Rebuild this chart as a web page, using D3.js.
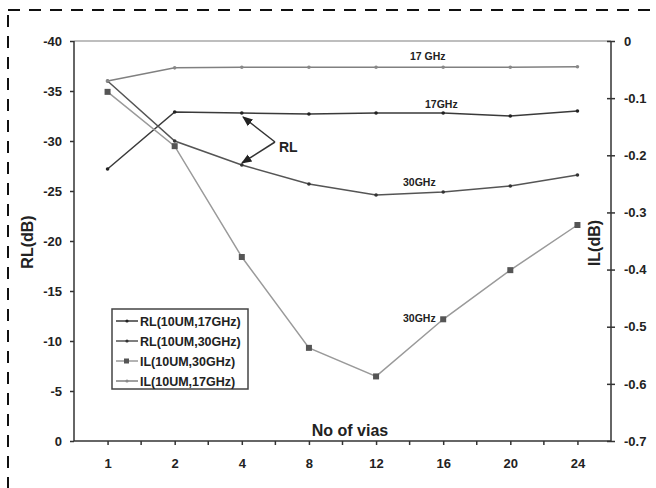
<!DOCTYPE html>
<html lang="en">
<head>
<meta charset="UTF-8">
<title>RL / IL vs No of vias</title>
<script src="https://d3js.org/d3.v7.min.js"></script>
<style>
    body { margin: 0; background: #fff; }
    svg { font-family: Arial, "Liberation Sans", sans-serif; font-weight: bold; }
</style>
</head>
<body>
<svg id="chart" width="656" height="488"></svg>
<script>
// categories on the x axis
const vias = ["1", "2", "4", "8", "12", "16", "20", "24"]

// return loss, left axis (dB)
const rl17 = [-27.2, -32.9, -32.8, -32.7, -32.8, -32.8, -32.5, -33.0]
const rl30 = [-36.0, -30.0, -27.6, -25.7, -24.6, -24.9, -25.5, -26.6]
// insertion loss, right axis (dB)
const il30 = [-0.089, -0.184, -0.378, -0.537, -0.587, -0.487, -0.401, -0.322]
const il17 = [-0.070, -0.047, -0.046, -0.046, -0.046, -0.046, -0.046, -0.045]

const leftTicks = [-40, -35, -30, -25, -20, -15, -10, -5, 0]
const rightTicks = [0, -0.1, -0.2, -0.3, -0.4, -0.5, -0.6, -0.7]

const svg = d3.select("#chart")
const pLeft = 74, pRight = 611, pTop = 41, pBottom = 441

// dashed frame round the figure
svg.append("rect")
    .attr("x", 8).attr("y", 10)
    .attr("width", 700).attr("height", 600)
    .attr("fill", "none").attr("stroke", "#111")
    .attr("stroke-width", 2).attr("stroke-dasharray", "12,9")

let x = d3.scalePoint().domain(vias).range([pLeft, pRight]).padding(0.5)
let xBand = d3.scaleBand().domain(vias).range([pLeft, pRight])
let yL = d3.scaleLinear().domain([0, -40]).range([pBottom, pTop])
let yR = d3.scaleLinear().domain([-0.7, 0]).range([pBottom, pTop])

// top edge of plot area
svg.append("line")
    .attr("x1", pLeft).attr("x2", pRight).attr("y1", pTop).attr("y2", pTop)
    .attr("stroke", "#a8a8a8").attr("stroke-width", 1.5)

// left axis
let gL = svg.append("g").attr("transform", `translate(${pLeft},0)`)
    .call(d3.axisLeft(yL).tickValues(leftTicks).tickSize(4).tickPadding(8).tickFormat(d => String(d)))
// right axis
let gR = svg.append("g").attr("transform", `translate(${pRight},0)`)
    .call(d3.axisRight(yR).tickValues(rightTicks).tickSize(4).tickPadding(9)
        .tickFormat(d => d === 0 ? "0" : d.toFixed(1)))
gR.selectAll(".tick line").attr("x1", -4)
// bottom axis
let gB = svg.append("g").attr("transform", `translate(0,${pBottom})`)
    .call(d3.axisBottom(x).tickSize(4).tickPadding(14))
// extra ticks at the category boundaries
gB.selectAll(".bound").data(vias.slice(1)).enter().append("line")
    .attr("x1", d => xBand(d)).attr("x2", d => xBand(d))
    .attr("y1", 0).attr("y2", 4).attr("stroke", "#333").attr("stroke-width", 1.5)

for (let g of [gL, gR, gB]) {
    g.select(".domain").attr("stroke", "#333").attr("stroke-width", 1.5)
    g.selectAll(".tick line").attr("stroke", "#333").attr("stroke-width", 1.5)
    g.selectAll("text").attr("font-size", 13).attr("font-weight", "bold")
        .attr("font-family", "Arial, 'Liberation Sans', sans-serif").attr("fill", "#222")
}
gB.select(".domain").attr("d", `M${pLeft},0H${pRight}`)
gL.select(".domain").attr("d", `M0,${pTop}V${pBottom}`)
gR.select(".domain").attr("d", `M0,${pTop}V${pBottom}`)

// axis titles
svg.append("text").attr("transform", "translate(33,242) rotate(-90)")
    .attr("text-anchor", "middle").attr("font-size", 16).attr("fill", "#222").text("RL(dB)")
svg.append("text").attr("transform", "translate(600,243) rotate(-90)")
    .attr("text-anchor", "middle").attr("font-size", 16).attr("fill", "#222").text("IL(dB)")
svg.append("text").attr("x", 350).attr("y", 436)
    .attr("text-anchor", "middle").attr("font-size", 16).attr("fill", "#222").text("No of vias")

// series
const series = [
    { name: "RL(10UM,17GHz)", vals: rl17, y: yL, color: "#3a3a3a", mark: "#222", shape: "dot" },
    { name: "RL(10UM,30GHz)", vals: rl30, y: yL, color: "#555", mark: "#333", shape: "dot" },
    { name: "IL(10UM,30GHz)", vals: il30, y: yR, color: "#9a9a9a", mark: "#555", shape: "square" },
    { name: "IL(10UM,17GHz)", vals: il17, y: yR, color: "#808080", mark: "#888", shape: "dot" }
]

let lineGen = (s) => d3.line()
    .x((d, i) => x(vias[i]))
    .y(d => s.y(d))

series.forEach(s => {
    svg.append("path").datum(s.vals)
        .attr("d", lineGen(s)).attr("fill", "none")
        .attr("stroke", s.color).attr("stroke-width", 1.5)
    let pts = svg.append("g")
    s.vals.forEach((v, i) => {
        if (s.shape === "square") {
            pts.append("rect").attr("x", x(vias[i]) - 3).attr("y", s.y(v) - 3)
                .attr("width", 6).attr("height", 6).attr("fill", s.mark)
        } else {
            pts.append("circle").attr("cx", x(vias[i])).attr("cy", s.y(v))
                .attr("r", 1.8).attr("fill", s.mark)
        }
    })
})

// inline labels
const notes = [
    { t: "17 GHz", x: 410, y: 60 },
    { t: "17GHz", x: 425, y: 108 },
    { t: "30GHz", x: 403, y: 186 },
    { t: "30GHz", x: 403, y: 322 }
]
svg.selectAll(".note").data(notes).enter().append("text")
    .attr("x", d => d.x).attr("y", d => d.y)
    .attr("font-size", 10.5).attr("fill", "#222").text(d => d.t)

// RL arrows
svg.append("defs").append("marker")
    .attr("id", "head").attr("viewBox", "0 0 10 10")
    .attr("refX", 9).attr("refY", 5).attr("markerWidth", 7).attr("markerHeight", 7)
    .attr("orient", "auto")
    .append("path").attr("d", "M0,1L10,5L0,9Z").attr("fill", "#222")
svg.append("line").attr("x1", 275).attr("y1", 142).attr("x2", 243).attr("y2", 117)
    .attr("stroke", "#333").attr("stroke-width", 1.5).attr("marker-end", "url(#head)")
svg.append("line").attr("x1", 275).attr("y1", 142).attr("x2", 242).attr("y2", 163)
    .attr("stroke", "#333").attr("stroke-width", 1.5).attr("marker-end", "url(#head)")
svg.append("text").attr("x", 279).attr("y", 152).attr("font-size", 14).attr("fill", "#222").text("RL")

// legend
let lg = svg.append("g")
lg.append("rect").attr("x", 112).attr("y", 309).attr("width", 136).attr("height", 80)
    .attr("fill", "#fff").attr("stroke", "#444").attr("stroke-width", 1.5)
series.forEach((s, i) => {
    let yy = 321 + i * 20
    lg.append("line").attr("x1", 116).attr("x2", 138).attr("y1", yy).attr("y2", yy)
        .attr("stroke", s.color).attr("stroke-width", 1.5)
    if (s.shape === "square") {
        lg.append("rect").attr("x", 124).attr("y", yy - 2.5).attr("width", 5).attr("height", 5).attr("fill", s.mark)
    } else {
        lg.append("circle").attr("cx", 127).attr("cy", yy).attr("r", 1.6).attr("fill", s.mark)
    }
    lg.append("text").attr("x", 140).attr("y", yy + 4.5)
        .attr("font-size", 12.5).attr("fill", "#222").text(s.name)
})
</script>
</body>
</html>
